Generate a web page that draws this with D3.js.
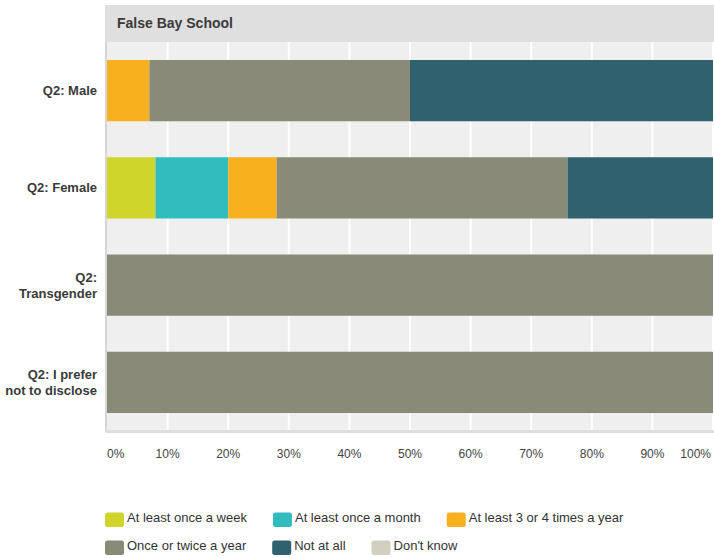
<!DOCTYPE html>
<html><head><meta charset="utf-8">
<script src="https://cdn.jsdelivr.net/npm/d3@7"></script>
<style>body{margin:0;background:#fff;overflow:hidden}svg{display:block;font-family:"Liberation Sans",Arial,sans-serif}</style>
</head><body><svg id="c" width="714" height="558"></svg>
<script>
const title = "False Bay School";
const categories = [["Q2: Male"], ["Q2: Female"], ["Q2:", "Transgender"], ["Q2: I prefer", "not to disclose"]];
const seriesNames = ["At least once a week", "At least once a month", "At least 3 or 4 times a year", "Once or twice a year", "Not at all", "Don't know"];
const colors = ["#cfd52a", "#33bcbe", "#f7b01e", "#8a8a78", "#2f616e", "#d0cfc0"];
const weekly  = [0, 8, 0, 0];
const monthly = [0, 12, 0, 0];
const threeFour = [7, 8, 0, 0];
const onceTwice = [43, 48, 100, 100];
const notAtAll = [50, 24, 0, 0];
const dontKnow = [0, 0, 0, 0];
const series = [weekly, monthly, threeFour, onceTwice, notAtAll, dontKnow];
const ticks = [0, 10, 20, 30, 40, 50, 60, 70, 80, 90, 100];

(function () {
const svg = d3.select("#c");
const pL = 106, pR = 714, pT = 42, pB = 431;

// header
svg.append("rect").attr("x", 105).attr("y", 5).attr("width", pR - 105).attr("height", pT - 5).attr("fill", "#dfdfdf");
svg.append("text").attr("x", 117).attr("y", 28).attr("font-size", 14).attr("font-weight", "bold").attr("fill", "#3a3a3a").text(title);

// plot bg
svg.append("rect").attr("x", pL).attr("y", pT).attr("width", pR - pL).attr("height", pB - pT).attr("fill", "#efefef");

const x = d3.scaleLinear().domain([0, 100]).range([107, 713]);
const y = d3.scaleBand().domain(d3.range(categories.length)).range([pT, pB]).paddingInner(0.37).paddingOuter(0.185);

// gridlines
svg.append("g").selectAll("line").data(ticks.slice(1)).join("line")
  .attr("x1", d => x(d)).attr("x2", d => x(d)).attr("y1", pT).attr("y2", pB)
  .attr("stroke", "#fff").attr("stroke-width", 2);
// axis lines
svg.append("line").attr("x1", pL).attr("x2", pL).attr("y1", pT).attr("y2", pB + 1).attr("stroke", "#d6d6d6").attr("stroke-width", 2);
svg.append("line").attr("x1", pL).attr("x2", pR).attr("y1", pB + 0.5).attr("y2", pB + 0.5).attr("stroke", "#dedede").attr("stroke-width", 3);

// stacked bars
const stackData = categories.map((c, i) => { const o = {i}; series.forEach((s, k) => o[k] = s[i]); return o; });
const stack = d3.stack().keys(d3.range(series.length))(stackData);
svg.append("g").selectAll("g").data(stack).join("g").attr("fill", (d, k) => colors[k])
  .selectAll("rect").data(d => d.filter(p => p[1] > p[0])).join("rect")
  .attr("x", d => x(d[0])).attr("width", d => x(d[1]) - x(d[0]))
  .attr("y", d => y(d.data.i)).attr("height", y.bandwidth());

// category labels
categories.forEach((lines, i) => {
  const cy = y(i) + y.bandwidth() / 2;
  const t = svg.append("text").attr("text-anchor", "end").attr("font-size", 13).attr("font-weight", "bold").attr("fill", "#3a3a3a");
  lines.forEach((l, j) => t.append("tspan").attr("x", 97).attr("y", cy + 4.5 + (j - (lines.length - 1) / 2) * 16).text(l));
});

// tick labels
svg.append("g").selectAll("text").data(ticks).join("text")
  .attr("x", d => d === 0 ? 107 : d === 100 ? 711 : x(d))
  .attr("text-anchor", d => d === 0 ? "start" : d === 100 ? "end" : "middle")
  .attr("y", 458).attr("font-size", 12).attr("fill", "#444").text(d => d + "%");

// legend (flow layout)
const rows = [[0, 1, 2], [3, 4, 5]];
rows.forEach((r, ri) => {
  let cx = 105;
  const yy = 512.5 + ri * 28;
  r.forEach(k => {
    svg.append("rect").attr("x", cx).attr("y", yy).attr("width", 19).attr("height", 14.5).attr("rx", 2.5).attr("fill", colors[k]);
    const t = svg.append("text").attr("x", cx + 22).attr("y", yy + 9).attr("font-size", 13).attr("fill", "#333").text(seriesNames[k]);
    cx += 22 + t.node().getComputedTextLength() + 26;
  });
});
})();
</script></body></html>
